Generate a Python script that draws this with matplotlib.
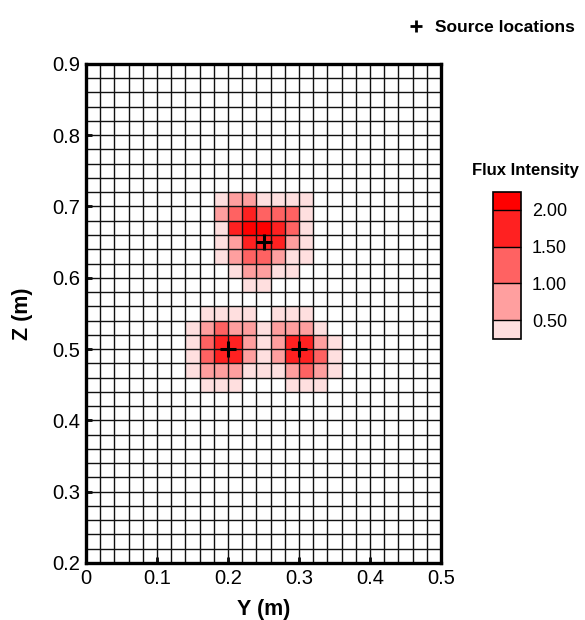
import numpy as np
import matplotlib
matplotlib.use('Agg')
import matplotlib.pyplot as plt
from matplotlib.colors import ListedColormap, BoundaryNorm
from matplotlib.lines import Line2D

plt.rcParams['font.family'] = ['Liberation Sans', 'DejaVu Sans']

# grid: 0.02 m cells, Y 0..0.5, Z 0.2..0.9
y_edges = np.linspace(0.0, 0.5, 26)
z_edges = np.linspace(0.2, 0.9, 36)

# flux values per row (row index from bottom, first column, values)
upper_start = 9
upper_rows = {
    25: [0.4, 0.75, 0.75, 0.4, 0.4, 0.4, 0.4],
    24: [0.75, 1.25, 1.75, 1.25, 1.25, 1.25, 0.4],
    23: [0.4, 1.75, 2.1, 2.1, 1.75, 1.25, 0.4],
    22: [0.4, 0.75, 1.75, 1.75, 1.75, 0.75, 0.4],
    21: [0.4, 0.75, 1.25, 1.25, 0.75, 0.4, 0.4],
    20: [0.0, 0.4, 0.75, 0.75, 0.4, 0.4, 0.0],
    19: [0.0, 0.0, 0.4, 0.4, 0.0, 0.0, 0.0],
}
lower_start = 7
lower_rows = {
    17: [0.0, 0.4, 0.4, 0.4, 0.4, 0.0, 0.4, 0.4, 0.4, 0.0, 0.0],
    16: [0.4, 0.75, 1.25, 0.75, 0.75, 0.4, 0.75, 0.75, 0.75, 0.4, 0.0],
    15: [0.4, 1.25, 1.75, 1.75, 0.75, 0.4, 0.75, 1.75, 1.75, 0.75, 0.4],
    14: [0.4, 1.25, 1.75, 1.75, 0.75, 0.4, 0.75, 1.75, 1.75, 1.25, 0.4],
    13: [0.4, 0.75, 0.75, 0.75, 0.4, 0.4, 0.4, 0.75, 1.25, 0.75, 0.4],
    12: [0.0, 0.4, 0.4, 0.4, 0.0, 0.0, 0.0, 0.4, 0.4, 0.4, 0.0],
}

src_y = [0.25, 0.2, 0.3]
src_z = [0.65, 0.5, 0.5]

levels = [0.25, 0.5, 1.0, 1.5, 2.0, 2.25]
level_colors = ['#FFDFDF', '#FF9F9F', '#FF6262', '#FF2121', '#FF0000']
cbar_ticks = [0.5, 1.0, 1.5, 2.0]

flux = np.zeros((35, 25))
for r, vals in upper_rows.items():
    flux[r, upper_start:upper_start + len(vals)] = vals
for r, vals in lower_rows.items():
    flux[r, lower_start:lower_start + len(vals)] = vals

cmap = ListedColormap(['white'] + level_colors)
norm = BoundaryNorm([-1.0] + levels[:-1] + [3.0], cmap.N)

fig = plt.figure(figsize=(5.85, 6.2), dpi=100)
ax = fig.add_axes([0.147, 0.092, 0.607, 0.805])
ax.pcolormesh(y_edges, z_edges, flux, cmap=cmap, norm=norm, edgecolors='none')
# mesh lines
ax.vlines(y_edges, 0.2, 0.9, color='#111111', lw=1.0)
ax.hlines(z_edges, 0.0, 0.5, color='#111111', lw=1.0)
ax.plot(src_y, src_z, '+', color='black', ms=11, mew=2.2, label='Source locations')

ax.set_xlim(0, 0.5)
ax.set_ylim(0.2, 0.9)
ax.set_xticks(np.arange(0, 0.51, 0.1))
ax.set_xticklabels(['0', '0.1', '0.2', '0.3', '0.4', '0.5'])
ax.set_yticks(np.arange(0.2, 0.91, 0.1))
ax.set_yticklabels(['0.2', '0.3', '0.4', '0.5', '0.6', '0.7', '0.8', '0.9'])
ax.tick_params(direction='in', length=4, width=2, labelsize=14.5, pad=4)
for s in ax.spines.values():
    s.set_linewidth(2.4)
ax.set_xlabel('Y (m)', fontsize=15.5, fontweight='bold', labelpad=8)
ax.set_ylabel('Z (m)', fontsize=15.5, fontweight='bold', labelpad=14)

# colour legend
cax = fig.add_axes([0.842, 0.454, 0.048, 0.237])
cmap_cb = ListedColormap(level_colors)
norm_cb = BoundaryNorm(levels, cmap_cb.N)
cb = fig.colorbar(plt.cm.ScalarMappable(norm=norm_cb, cmap=cmap_cb), cax=cax,
                  boundaries=levels, spacing='proportional', drawedges=True)
cb.set_ticks(cbar_ticks)
cb.set_ticklabels(['0.50', '1.00', '1.50', '2.00'])
cb.ax.minorticks_off()
cb.ax.tick_params(which='both', length=0, labelsize=13, pad=8)
cb.outline.set_linewidth(1.2)
cb.dividers.set_linewidth(1.0)
fig.text(0.898, 0.717, 'Flux Intensity', fontsize=12, fontweight='bold', ha='center')

fig.legend(handles=[Line2D([], [], ls='none', marker='+', color='black', ms=9, mew=2)],
           labels=['Source locations'], loc='upper right', bbox_to_anchor=(1.0, 0.985),
           frameon=False, prop={'weight': 'bold', 'size': 12.5}, handlelength=1.0,
           handletextpad=0.6, borderaxespad=0.2)

fig.savefig('out.png', dpi=100)
